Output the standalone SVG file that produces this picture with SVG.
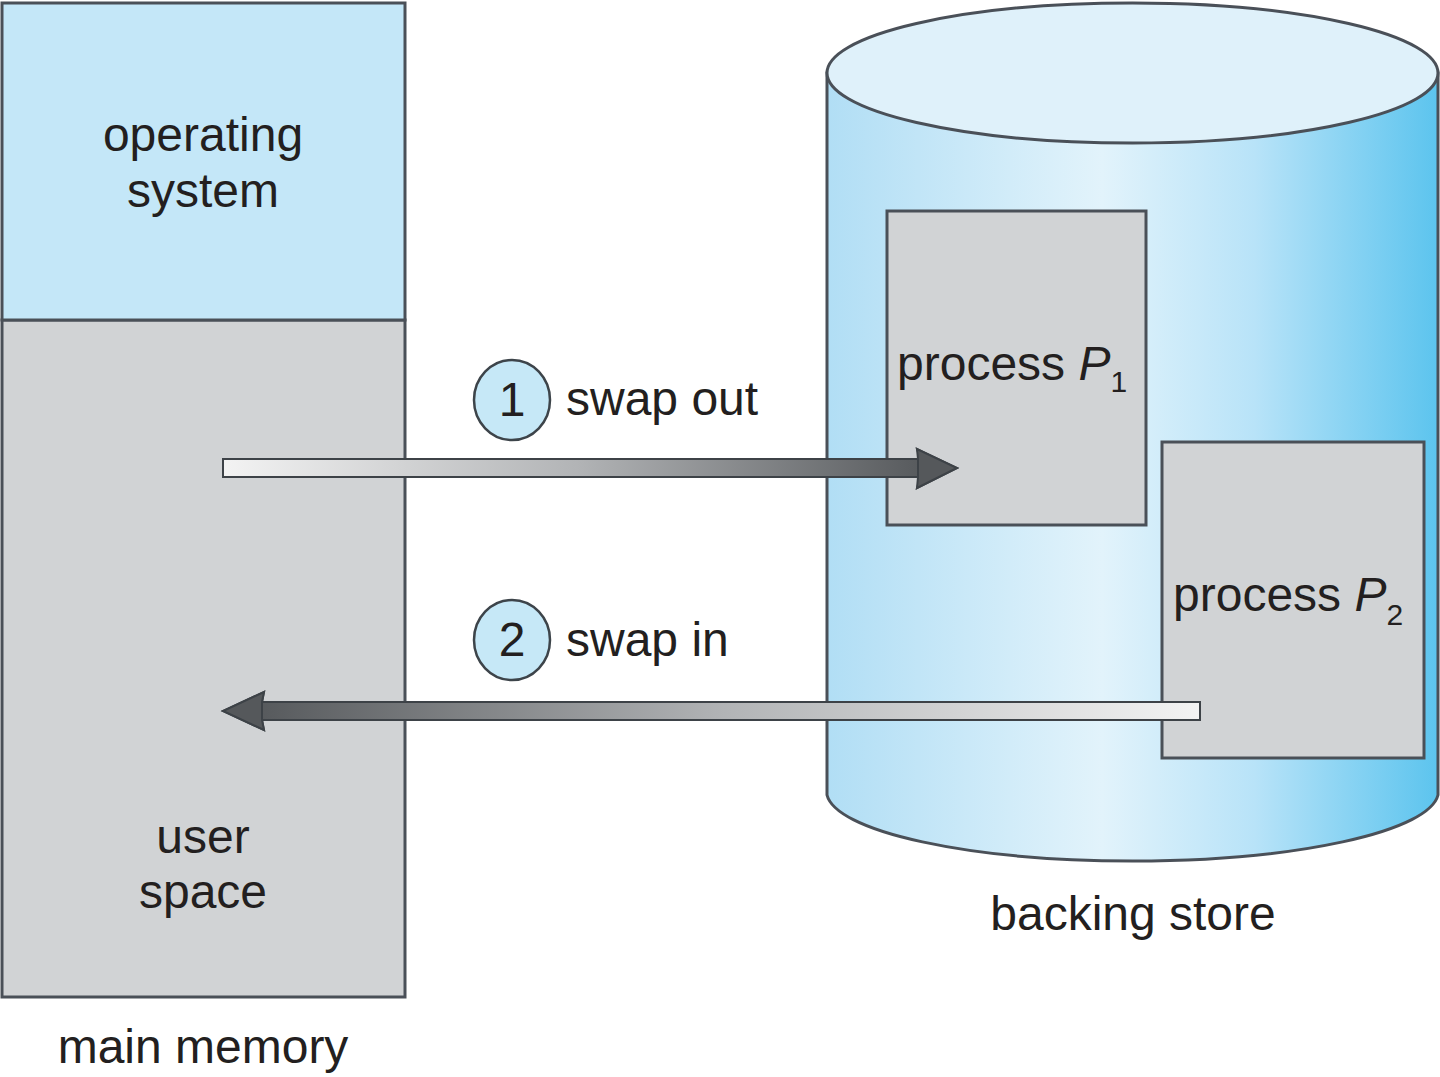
<svg xmlns="http://www.w3.org/2000/svg" width="1440" height="1077" viewBox="0 0 1440 1077">
<style>
text{font-family:"Liberation Sans",Arial,sans-serif;font-size:48px;fill:#231f20}
.mid{text-anchor:middle}
.box{fill:#d1d3d5;stroke:#4a5058;stroke-width:3}
.os{fill:#c4e7f8;stroke:#4a5058;stroke-width:3}
.num{fill:#c6e8f7;stroke:#3d444a;stroke-width:2.5}
.arr{stroke:#3d4247;stroke-width:2}
</style>
<defs>
<linearGradient id="cyl" x1="0" y1="0" x2="1" y2="0">
<stop offset="0" stop-color="#b1def5"/>
<stop offset="0.45" stop-color="#e2f3fb"/>
<stop offset="0.7" stop-color="#b8e3f8"/>
<stop offset="1" stop-color="#5cc4ee"/>
</linearGradient>
<linearGradient id="s1" x1="223" y1="0" x2="930" y2="0" gradientUnits="userSpaceOnUse">
<stop offset="0" stop-color="#f3f3f3"/>
<stop offset="0.5" stop-color="#b2b4b6"/>
<stop offset="1" stop-color="#55585b"/>
</linearGradient>
<linearGradient id="s2" x1="1200" y1="0" x2="250" y2="0" gradientUnits="userSpaceOnUse">
<stop offset="0" stop-color="#f3f3f3"/>
<stop offset="0.5" stop-color="#b2b4b6"/>
<stop offset="1" stop-color="#55585b"/>
</linearGradient>
</defs>

<g id="main-memory">
<rect class="box" x="2" y="320" width="403" height="677"/>
<rect class="os" x="2" y="3" width="403" height="317"/>
<text class="mid" x="203" y="151">operating</text>
<text class="mid" x="203" y="207">system</text>
<text class="mid" x="203" y="853">user</text>
<text class="mid" x="203" y="908">space</text>
<text class="mid" x="203" y="1063">main memory</text>
</g>

<g id="backing-store">
<path d="M827,73 L827,795 A306,70 0 0 0 1438,795 L1438,73 Z" fill="url(#cyl)" stroke="#4a5058" stroke-width="3"/>
<ellipse cx="1132.5" cy="73" rx="305.5" ry="70" fill="#dff1fa" stroke="#4a5058" stroke-width="3"/>
<text class="mid" x="1133" y="930">backing store</text>
</g>

<g id="process-p1">
<rect class="box" x="887" y="211" width="259" height="314"/>
<text x="897" y="380">process <tspan font-style="italic">P</tspan><tspan font-size="30" dy="12">1</tspan></text>
</g>

<g id="process-p2">
<rect class="box" x="1162" y="442" width="262" height="316"/>
<text x="1173" y="611">process <tspan font-style="italic">P</tspan><tspan font-size="30" dy="14">2</tspan></text>
</g>

<g id="connectors">
<path class="arr" d="M223,459 L920,459 L917,449 L957,468 L917,488 L920,477 L223,477 Z" fill="url(#s1)"/>
<path class="arr" d="M918,459 L917,449 L957,468 L917,488 L918,477 Z" fill="#55585b"/>
<path class="arr" d="M1200,702 L262,702 L264,692 L223,711 L264,730 L262,720 L1200,720 Z" fill="url(#s2)"/>
<path class="arr" d="M262,702 L264,692 L223,711 L264,730 L262,720 Z" fill="#55585b"/>
</g>

<g id="label-swap-out">
<ellipse class="num" cx="512" cy="400" rx="38" ry="40"/>
<text class="mid" x="512" y="416">1</text>
<text x="566" y="415">swap out</text>
</g>

<g id="label-swap-in">
<ellipse class="num" cx="512" cy="640" rx="38" ry="40"/>
<text class="mid" x="512" y="656">2</text>
<text x="566" y="656">swap in</text>
</g>
</svg>
